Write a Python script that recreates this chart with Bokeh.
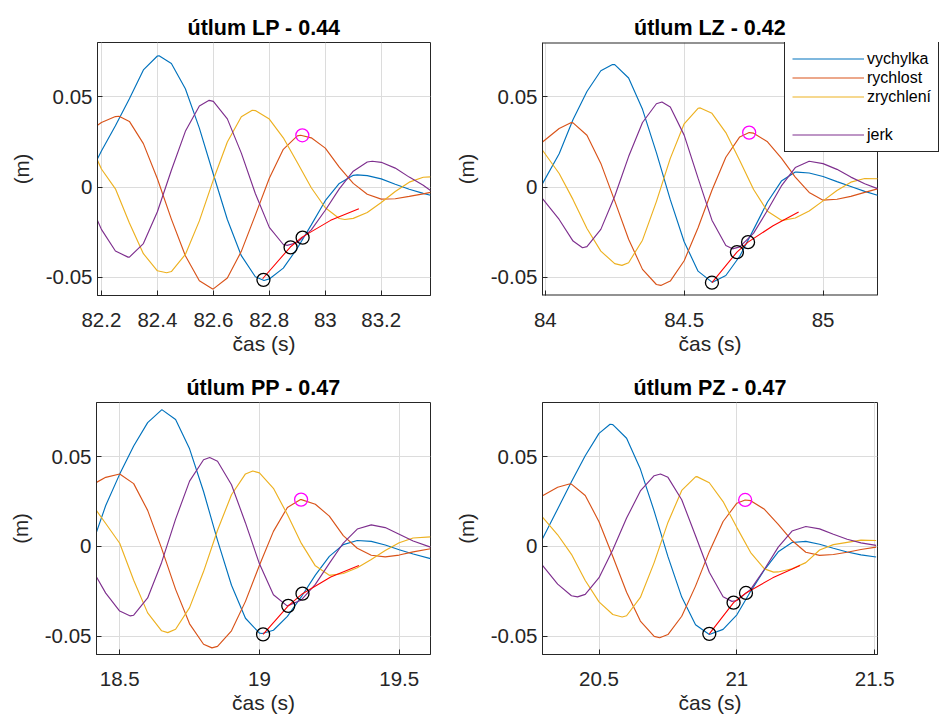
from bokeh.plotting import figure
from bokeh.models import Range1d, FixedTicker, Legend, LegendItem, CustomJSTickFormatter, Title
from bokeh.layouts import column, row
from bokeh.embed import file_html
from bokeh.resources import INLINE

# ---------------- data ----------------
series_names = ["vychylka", "rychlost", "zrychlení", "jerk"]
series_colors = ["#0072BD", "#D95319", "#EDB120", "#7E2F8E"]
x_label = "čas (s)"
y_label = "(m)"

y_lim = [-0.0602, 0.0802]
y_ticks = [-0.05, 0, 0.05]
y_tick_labels = ["-0.05", "0", "0.05"]

# --- LP ---
lp_title = "útlum LP - 0.44"
lp_xlim = [82.186, 83.376]
lp_xticks = [82.2, 82.4, 82.6, 82.8, 83.0, 83.2]
lp_xtick_labels = ["82.2", "82.4", "82.6", "82.8", "83", "83.2"]
lp_t = [82.186, 82.20, 82.25, 82.30, 82.35, 82.40, 82.45, 82.50, 82.55, 82.60, 82.65, 82.70, 82.75,
        82.80, 82.85, 82.90, 82.95, 83.00, 83.05, 83.10, 83.15, 83.20, 83.25, 83.30, 83.35, 83.376]
lp_vychylka = [0.0157, 0.020, 0.034, 0.049, 0.065, 0.0727, 0.0686, 0.0545, 0.0327, 0.0071, -0.018, -0.0381, -0.0498,
               -0.051, -0.045, -0.034, -0.021, -0.0076, 0.002, 0.0065, 0.0063, 0.0045, 0.0015, -0.0012, -0.0035, -0.0046]
lp_rychlost = [0.0343, 0.0358, 0.0391, 0.0364, 0.0241, 0.0046, -0.0178, -0.0381, -0.052, -0.0565, -0.0505, -0.0357, -0.0156,
               0.0049, 0.0209, 0.0284, 0.0273, 0.0216, 0.011, 0.002, -0.004, -0.0067, -0.0065, -0.0052, -0.0038, -0.003]
lp_zrychleni = [0.0148, 0.010, -0.001, -0.020, -0.037, -0.0465, -0.0469, -0.0374, -0.0188, 0.004, 0.025, 0.039, 0.0424,
                0.0377, 0.0273, 0.0136, -0.0004, -0.0115, -0.0175, -0.0174, -0.0141, -0.0086, -0.0025, 0.0027, 0.0054, 0.0056]
lp_jerk = [-0.0185, -0.0235, -0.0355, -0.0389, -0.0314, -0.0137, 0.0093, 0.0309, 0.045, 0.0475, 0.0378, 0.0188, -0.0036,
           -0.0224, -0.0319, -0.0308, -0.0238, -0.0129, -0.001, 0.0088, 0.0139, 0.0137, 0.0105, 0.0055, 0.001, -0.0019]
# extrema (peaks / troughs) of each series, read separately
lp_ext_t = [[82.406, 82.781, 83.114], [82.263, 82.596, 82.912], [82.433, 82.739, 83.07], [82.295, 82.585, 82.864, 83.168]]
lp_ext_y = [[0.0728, -0.0519, 0.0067], [0.0393, -0.0565, 0.0287], [-0.0476, 0.0426, -0.018], [-0.0389, 0.0481, -0.0324, 0.0143]]
lp_fit_t = [82.776, 82.875, 82.917, 83.019, 83.12]
lp_fit_y = [-0.0509, -0.0333, -0.0278, -0.0185, -0.012]
lp_mark_t = [82.779, 82.876, 82.919]
lp_mark_y = [-0.0515, -0.0335, -0.0281]
lp_peak_t = [82.918]
lp_peak_y = [0.0287]

# --- LZ ---
lz_title = "útlum LZ - 0.42"
lz_xlim = [83.99, 85.196]
lz_xticks = [84.0, 84.5, 85.0]
lz_xtick_labels = ["84", "84.5", "85"]
lz_t = [83.99, 84.05, 84.10, 84.15, 84.20, 84.25, 84.30, 84.35, 84.40, 84.45, 84.50, 84.55, 84.60,
        84.65, 84.70, 84.75, 84.80, 84.85, 84.90, 84.95, 85.00, 85.05, 85.10, 85.15, 85.196]
lz_vychylka = [0.0019, 0.0185, 0.0375, 0.053, 0.0645, 0.0679, 0.0605, 0.0431, 0.0191, -0.007, -0.0304, -0.0467, -0.0528,
               -0.0491, -0.0384, -0.0235, -0.0083, 0.0033, 0.0083, 0.0078, 0.0058, 0.003, 0.0003, -0.0024, -0.0046]
lz_rychlost = [0.025, 0.0325, 0.0356, 0.0287, 0.0131, -0.0077, -0.029, -0.0457, -0.0541, -0.0522, -0.0409, -0.0226, -0.0018,
               0.0165, 0.0278, 0.0299, 0.0251, 0.016, 0.0055, -0.003, -0.0073, -0.0068, -0.0052, -0.003, -0.001]
lz_zrychleni = [0.0204, 0.0075, -0.007, -0.023, -0.0356, -0.0425, -0.042, -0.0295, -0.0081, 0.0159, 0.0351, 0.0437, 0.0409,
                0.0302, 0.0147, -0.0014, -0.0135, -0.0185, -0.0172, -0.0133, -0.0077, -0.0019, 0.0027, 0.0047, 0.0046]
lz_jerk = [-0.0065, -0.018, -0.030, -0.0331, -0.0235, -0.0051, 0.0169, 0.0358, 0.0462, 0.0444, 0.0288, 0.0049, -0.0184,
           -0.0325, -0.0332, -0.0256, -0.0129, 0.0006, 0.0108, 0.0143, 0.013, 0.0098, 0.0055, 0.0018, -0.0009]
lz_ext_t = [[84.242, 84.602, 84.906], [84.092, 84.416, 84.734], [84.276, 84.558, 84.854], [84.134, 84.42, 84.674]]
lz_ext_y = [[0.068, -0.0528, 0.0083], [0.0357, -0.0546, 0.0302], [-0.0435, 0.0439, -0.0185], [-0.0337, 0.0472, -0.0343]]
lz_fit_t = [84.60, 84.69, 84.73, 84.82, 84.912]
lz_fit_y = [-0.0531, -0.0361, -0.0306, -0.0215, -0.0139]
lz_mark_t = [84.60, 84.69, 84.73]
lz_mark_y = [-0.0531, -0.0361, -0.0306]
lz_peak_t = [84.734]
lz_peak_y = [0.0302]

# --- PP ---
pp_title = "útlum PP - 0.47"
pp_xlim = [18.417, 19.612]
pp_xticks = [18.5, 19.0, 19.5]
pp_xtick_labels = ["18.5", "19", "19.5"]
pp_t = [18.417, 18.45, 18.50, 18.55, 18.60, 18.65, 18.70, 18.75, 18.80, 18.85, 18.90, 18.95, 19.00,
        19.05, 19.10, 19.15, 19.20, 19.25, 19.30, 19.35, 19.40, 19.45, 19.50, 19.55, 19.612]
pp_vychylka = [0.008, 0.0228, 0.0403, 0.056, 0.069, 0.0761, 0.0707, 0.0544, 0.0306, 0.0034, -0.0216, -0.04, -0.0483,
               -0.0467, -0.039, -0.028, -0.016, -0.0055, 0.001, 0.0033, 0.0028, 0.0008, -0.0018, -0.0042, -0.0068]
pp_rychlost = [0.0357, 0.0385, 0.0404, 0.035, 0.0201, -0.0011, -0.0239, -0.0431, -0.0545, -0.0557, -0.047, -0.0306, -0.0105,
               0.0084, 0.0217, 0.0261, 0.0235, 0.0169, 0.006, -0.001, -0.0049, -0.0058, -0.0048, -0.003, -0.0013]
pp_zrychleni = [0.02, 0.0128, 0.0018, -0.0188, -0.037, -0.047, -0.0461, -0.0341, -0.014, 0.009, 0.0288, 0.0404, 0.041,
                0.0324, 0.0178, 0.0017, -0.0108, -0.0161, -0.0151, -0.0119, -0.0073, -0.0023, 0.0021, 0.0047, 0.0053]
pp_jerk = [-0.017, -0.026, -0.036, -0.0383, -0.0287, -0.0089, 0.0152, 0.0364, 0.0483, 0.0475, 0.0344, 0.0131, -0.0097,
           -0.0269, -0.0331, -0.0298, -0.0211, -0.0094, 0.0019, 0.0097, 0.012, 0.0105, 0.0068, 0.003, -0.0004]
pp_ext_t = [[18.652, 19.01], [18.83, 19.147], [18.672, 18.976], [18.538, 18.822, 19.099]]
pp_ext_y = [[0.0761, -0.0485], [-0.0565, 0.0261], [-0.048, 0.042], [-0.0387, 0.0496, -0.0331]]
pp_fit_t = [19.013, 19.103, 19.154, 19.255, 19.356]
pp_fit_y = [-0.049, -0.0331, -0.0263, -0.017, -0.0106]
pp_mark_t = [19.013, 19.103, 19.154]
pp_mark_y = [-0.049, -0.0331, -0.0263]
pp_peak_t = [19.149]
pp_peak_y = [0.0261]

# --- PZ ---
pz_title = "útlum PZ - 0.47"
pz_xlim = [20.295, 21.51]
pz_xticks = [20.5, 21.0, 21.5]
pz_xtick_labels = ["20.5", "21", "21.5"]
pz_t = [20.295, 20.35, 20.40, 20.45, 20.50, 20.55, 20.60, 20.65, 20.70, 20.75, 20.80, 20.85, 20.90,
        20.95, 21.00, 21.05, 21.10, 21.15, 21.20, 21.25, 21.30, 21.35, 21.40, 21.45, 21.505]
pz_vychylka = [0.0043, 0.0209, 0.036, 0.0505, 0.063, 0.0679, 0.0603, 0.0431, 0.0197, -0.0057, -0.0282, -0.0436, -0.0491,
               -0.0462, -0.0381, -0.025, -0.013, -0.003, 0.0022, 0.0028, 0.0012, -0.001, -0.0031, -0.0047, -0.0059]
pz_rychlost = [0.0283, 0.033, 0.0347, 0.0284, 0.0138, -0.0056, -0.0255, -0.0416, -0.0501, -0.0491, -0.0389, -0.0221, -0.0029,
               0.0139, 0.0241, 0.0255, 0.0207, 0.0123, 0.0033, -0.0032, -0.005, -0.0045, -0.0032, -0.0017, -0.0004]
pz_zrychleni = [0.0163, 0.0065, -0.0044, -0.019, -0.0309, -0.0379, -0.0386, -0.0284, -0.009, 0.0134, 0.0312, 0.0388, 0.0355,
                0.025, 0.0105, -0.0034, -0.0125, -0.0142, -0.0124, -0.009, -0.002, 0.001, 0.0023, 0.0035, 0.0033]
pz_jerk = [-0.0106, -0.021, -0.0275, -0.0267, -0.0174, -0.0018, 0.0158, 0.0309, 0.0394, 0.0385, 0.026, 0.006, -0.0144,
           -0.028, -0.0301, -0.0239, -0.0127, -0.0004, 0.0086, 0.0111, 0.0098, 0.0068, 0.004, 0.002, 0.0006]
pz_ext_t = [[20.54], [20.392, 20.72, 21.03], [20.584, 20.855, 21.133], [20.422, 20.723, 20.982]]
pz_ext_y = [[0.0681], [0.0348, -0.0509, 0.0259], [-0.0393, 0.0389, -0.0143], [-0.0281, 0.0404, -0.0306]]
pz_fit_t = [20.90, 20.988, 21.033, 21.13, 21.229]
pz_fit_y = [-0.0487, -0.0313, -0.0259, -0.0175, -0.0106]
pz_mark_t = [20.90, 20.988, 21.033]
pz_mark_y = [-0.0487, -0.0313, -0.0259]
pz_peak_t = [21.03]
pz_peak_y = [0.0259]

# ---------------- styling ----------------
FONT = "Liberation Sans"
AX = "#262626"


def tick_formatter(ticks, labels):
    return CustomJSTickFormatter(args=dict(tv=ticks, tl=labels), code="""
        for (let j = 0; j < tv.length; j++) {
            if (Math.abs(tv[j] - tick) < 1e-9) { return tl[j]; }
        }
        return tick.toString();
    """)


def merged(t, y, et, ey):
    pts = sorted(list(zip(t, y)) + list(zip(et, ey)))
    return [a for a, _ in pts], [b for _, b in pts]


def make_panel(title, xlim, xticks, xlabels, t, ys, ext_t, ext_y, fit_t, fit_y, mk_t, mk_y, pk_t, pk_y,
               fw, fh, lb, rb, tb, bb, legend=False, extra_px=0, title_left=None, xlabel_left=None):
    # extra_px: frame is widened to the right (room for the legend that spills over the box);
    # the visible axes box still ends at xlim[1].
    scale = (xlim[1] - xlim[0]) / fw
    x_end = xlim[1] + extra_px * scale
    p = figure(frame_width=fw + extra_px, frame_height=fh,
               x_range=Range1d(xlim[0], x_end), y_range=Range1d(y_lim[0], y_lim[1]),
               output_backend="svg", toolbar_location=None,
               min_border_left=lb, min_border_right=rb, min_border_top=tb, min_border_bottom=bb)
    p.background_fill_color = "white"
    p.border_fill_color = "white"

    p.title.text = title
    if title_left is None:
        p.title.align = "center"
    else:
        p.title.align = "left"
        p.title.offset = title_left
    p.title.text_font = FONT
    p.title.text_font_size = "21.5px"
    p.title.text_font_style = "bold"
    p.title.text_color = "black"
    p.title.standoff = 6

    p.xaxis.ticker = FixedTicker(ticks=xticks)
    p.xaxis.formatter = tick_formatter(xticks, xlabels)
    p.yaxis.ticker = FixedTicker(ticks=y_ticks)
    p.yaxis.formatter = tick_formatter(y_ticks, y_tick_labels)
    p.yaxis.axis_label = y_label
    for ax in (p.xaxis, p.yaxis):
        ax.axis_line_color = AX
        ax.major_tick_line_color = AX
        ax.major_tick_in = 5
        ax.major_tick_out = 0
        ax.minor_tick_line_color = None
        ax.major_label_text_font = FONT
        ax.major_label_text_font_size = "20.5px"
        ax.major_label_text_color = AX
        ax.axis_label_text_font = FONT
        ax.axis_label_text_font_size = "20.5px"
        ax.axis_label_text_font_style = "normal"
        ax.axis_label_text_color = AX
    p.xaxis.major_label_standoff = 17
    p.yaxis.major_label_standoff = 5
    p.yaxis.axis_label_standoff = 10

    if xlabel_left is None:
        xl = Title(text=x_label, align="center", text_font=FONT, text_font_size="21px",
                   text_font_style="normal", text_color=AX, standoff=0)
    else:
        xl = Title(text=x_label, align="left", offset=xlabel_left, text_font=FONT, text_font_size="21px",
                   text_font_style="normal", text_color=AX, standoff=0)
    p.add_layout(xl, "below")

    p.grid.grid_line_color = "#DCDCDC"
    p.grid.grid_line_width = 1

    if extra_px > 0:
        p.outline_line_color = None
        p.xaxis.axis_line_color = None
        # white area right of the visible axes box, and the box itself
        p.quad(left=[xlim[1]], right=[x_end + 1], bottom=[-1], top=[1], fill_color="white", line_color=None)
        p.segment(x0=[xlim[0], xlim[0]], y0=[y_lim[0], y_lim[1]], x1=[xlim[1], xlim[1]], y1=[y_lim[0], y_lim[1]],
                  line_color=AX, line_width=2)
        p.segment(x0=[xlim[1]], y0=[y_lim[0]], x1=[xlim[1]], y1=[y_lim[1]], line_color=AX, line_width=1)
    else:
        p.outline_line_color = AX
        p.outline_line_width = 1
        p.outline_line_alpha = 1

    rends = []
    for y, c, et, ey in zip(ys, series_colors, ext_t, ext_y):
        tt, yy = merged(t, y, et, ey)
        rends.append(p.line(tt, yy, line_color=c, line_width=1.15))

    p.line(fit_t, fit_y, line_color="#FF0000", line_width=1.1)
    p.scatter(mk_t, mk_y, marker="circle", size=13, fill_color=None, line_color="black", line_width=1.3)
    p.scatter(pk_t, pk_y, marker="circle", size=13, fill_color=None, line_color="#FF00FF", line_width=1.3)

    if legend:
        blank = p.line([t[0], t[0]], [0, 0], line_alpha=0)
        items = [LegendItem(label=series_names[i], renderers=[rends[i]]) for i in range(3)]
        items.append(LegendItem(label=" ", renderers=[blank]))
        items.append(LegendItem(label=series_names[3], renderers=[rends[3]]))
        lg = Legend(items=items, location=(242, 143), orientation="vertical",
                    glyph_width=72, glyph_height=19, label_height=19, label_standoff=3,
                    padding=7, spacing=0, margin=0,
                    label_text_font=FONT, label_text_font_size="16px", label_text_color="black",
                    border_line_color=AX, border_line_width=1, border_line_alpha=1,
                    background_fill_color="white", background_fill_alpha=1)
        p.add_layout(lg)
    return p


p1 = make_panel(lp_title, lp_xlim, lp_xticks, lp_xtick_labels, lp_t,
                [lp_vychylka, lp_rychlost, lp_zrychleni, lp_jerk], lp_ext_t, lp_ext_y,
                lp_fit_t, lp_fit_y, lp_mark_t, lp_mark_y, lp_peak_t, lp_peak_y,
                fw=333, fh=253, lb=97, rb=21, tb=42, bb=65)
p2 = make_panel(lz_title, lz_xlim, lz_xticks, lz_xtick_labels, lz_t,
                [lz_vychylka, lz_rychlost, lz_zrychleni, lz_jerk], lz_ext_t, lz_ext_y,
                lz_fit_t, lz_fit_y, lz_mark_t, lz_mark_y, lz_peak_t, lz_peak_y,
                fw=335, fh=253, lb=88, rb=0, tb=42, bb=65, legend=True, extra_px=69,
                title_left=91.5, xlabel_left=136)
p3 = make_panel(pp_title, pp_xlim, pp_xticks, pp_xtick_labels, pp_t,
                [pp_vychylka, pp_rychlost, pp_zrychleni, pp_jerk], pp_ext_t, pp_ext_y,
                pp_fit_t, pp_fit_y, pp_mark_t, pp_mark_y, pp_peak_t, pp_peak_y,
                fw=334, fh=252, lb=96, rb=21, tb=42, bb=66)
p4 = make_panel(pz_title, pz_xlim, pz_xticks, pz_xtick_labels, pz_t,
                [pz_vychylka, pz_rychlost, pz_zrychleni, pz_jerk], pz_ext_t, pz_ext_y,
                pz_fit_t, pz_fit_y, pz_mark_t, pz_mark_y, pz_peak_t, pz_peak_y,
                fw=335, fh=252, lb=89, rb=68, tb=42, bb=66)

layout = column(row(p1, p2), row(p3, p4))
open("out.html", "w").write(file_html(layout, INLINE))
